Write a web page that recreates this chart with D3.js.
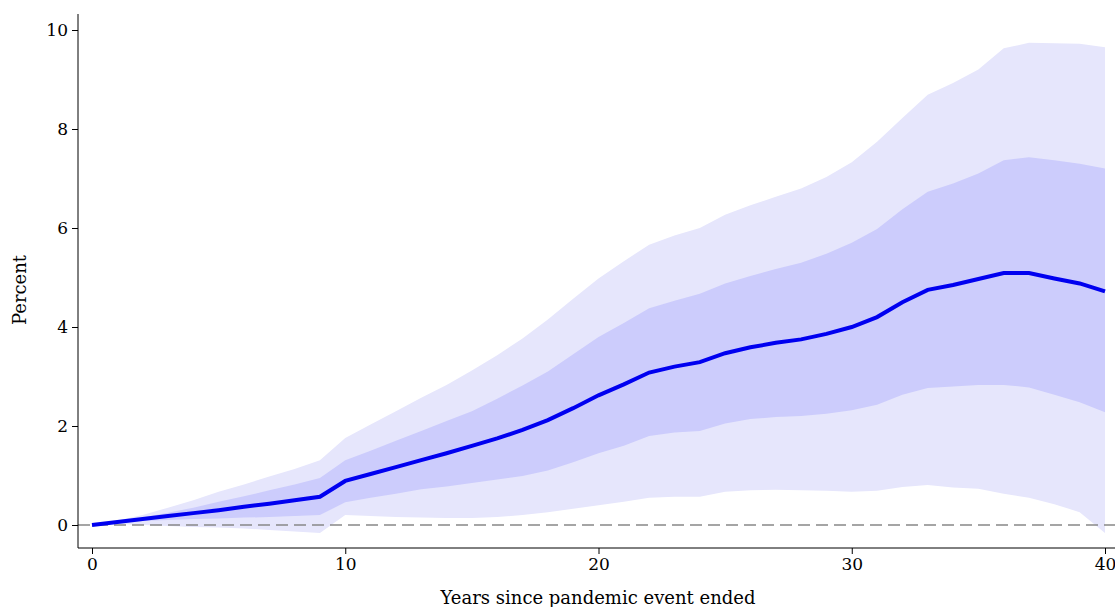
<!DOCTYPE html>
<html><head><meta charset="utf-8">
<script src="https://cdn.jsdelivr.net/npm/d3@7"></script>
<style>body{margin:0;background:#fff}text{font-family:"DejaVu Serif","Liberation Serif",serif}</style>
</head><body><svg id="c" width="1115" height="607"></svg>
<script>
// years 0..40
var years = d3.range(0, 41);
var est = [0,.06,.12,.18,.24,.3,.37,.43,.5,.57,.89,1.03,1.17,1.31,1.45,1.6,1.75,1.92,2.12,2.36,2.62,2.84,3.08,3.2,3.29,3.47,3.59,3.68,3.75,3.86,4.0,4.2,4.5,4.75,4.85,4.97,5.09,5.09,4.98,4.88,4.72];
var innerHi = [0,.07,.15,.25,.35,.47,.58,.7,.82,.95,1.31,1.5,1.7,1.9,2.1,2.3,2.55,2.82,3.1,3.45,3.8,4.08,4.38,4.53,4.67,4.88,5.03,5.17,5.3,5.48,5.7,5.98,6.38,6.73,6.9,7.1,7.37,7.43,7.37,7.3,7.2];
var innerLo = [0,.04,.08,.1,.12,.13,.15,.16,.18,.2,.46,.55,.63,.72,.78,.85,.92,.99,1.1,1.27,1.45,1.6,1.8,1.87,1.9,2.05,2.14,2.18,2.2,2.25,2.32,2.43,2.63,2.77,2.8,2.83,2.83,2.78,2.63,2.48,2.28];
var outerHi = [0,.09,.2,.35,.5,.67,.82,.98,1.13,1.31,1.76,2.03,2.3,2.57,2.83,3.12,3.43,3.77,4.15,4.57,4.98,5.33,5.66,5.85,6.0,6.27,6.46,6.63,6.8,7.03,7.33,7.74,8.22,8.69,8.93,9.2,9.63,9.74,9.73,9.72,9.65];
var outerLo = [0,.02,0,-.02,-.04,-.05,-.07,-.1,-.13,-.16,.2,.18,.16,.15,.14,.14,.16,.2,.26,.33,.4,.47,.55,.57,.57,.67,.7,.71,.7,.69,.67,.69,.77,.81,.76,.73,.63,.55,.42,.26,-.16];
var xTicks = [0,10,20,30,40];
var yTicks = [0,2,4,6,8,10];

var svg = d3.select("#c");
var x = d3.scaleLinear().domain([0,40]).range([92,1105]);
var y = d3.scaleLinear().domain([0,10]).range([525,30]);

function band(lo, hi){
    return d3.area().x(function(d){return x(d);})
        .y0(function(d,i){return y(lo[i]);}).y1(function(d,i){return y(hi[i]);})(years);
}
svg.append("path").attr("d", band(outerLo, outerHi)).attr("fill","#e6e6fc");
svg.append("path").attr("d", band(innerLo, innerHi)).attr("fill","#ccccfc");

svg.append("line").attr("x1",78).attr("x2",1115).attr("y1",y(0)).attr("y2",y(0))
    .attr("stroke","#888").attr("stroke-width",1.6).attr("stroke-dasharray","12,6");

svg.append("path").datum(years)
    .attr("d", d3.line().x(function(d){return x(d);}).y(function(d,i){return y(est[i]);}))
    .attr("fill","none").attr("stroke","#0000f0").attr("stroke-width",4);

// axes
var gx = svg.append("g").attr("transform","translate(0,548)")
    .call(d3.axisBottom(x).tickValues(xTicks).tickSize(6).tickPadding(4));
gx.select(".domain").attr("d","M78,0H1115");
var gy = svg.append("g").attr("transform","translate(78,0)")
    .call(d3.axisLeft(y).tickValues(yTicks).tickSize(6).tickPadding(4));
gy.select(".domain").attr("d","M0,14V548");
svg.selectAll(".tick text").attr("font-size",17).attr("fill","#000")
    .style("font-family","'DejaVu Serif',serif");
svg.selectAll(".domain,.tick line").attr("stroke","#000");

svg.append("text").attr("x",598).attr("y",604).attr("text-anchor","middle")
    .attr("font-size",18).text("Years since pandemic event ended");
svg.append("text").attr("transform","translate(26,290) rotate(-90)").attr("text-anchor","middle")
    .attr("font-size",18).text("Percent");
</script></body></html>
